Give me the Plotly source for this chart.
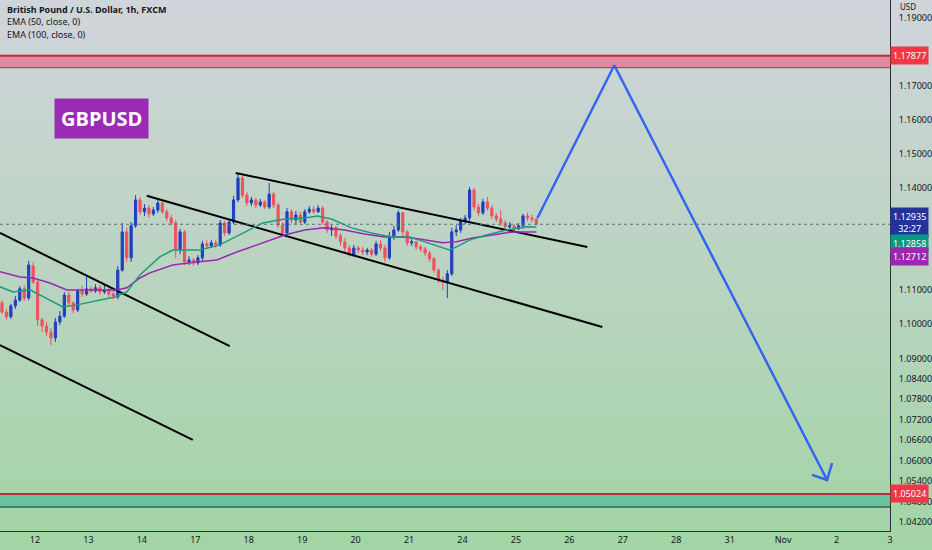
import plotly.graph_objects as go

# x axis = trading days counted from 12 Oct (weekends removed), bars are 2h
day_labels = ["12", "13", "14", "17", "18", "19", "20", "21", "24", "25",
              "26", "27", "28", "31", "Nov", "2", "3"]
first_bar_day = -0.617
bar_step = 2 / 24

opens = [1.1063, 1.1036, 1.1022, 1.1054, 1.1071, 1.1104, 1.1077, 1.1171, 1.1124, 1.1013,
         1.0995, 1.0977, 1.0960, 1.1007, 1.1024, 1.1086, 1.1063, 1.1042, 1.1098, 1.1089,
         1.1104, 1.1098, 1.1107, 1.1095, 1.1101, 1.1089, 1.1080, 1.1159, 1.1271, 1.1195,
         1.1289, 1.1365, 1.1330, 1.1341, 1.1324, 1.1335, 1.1356, 1.1330, 1.1312, 1.1297,
         1.1218, 1.1271, 1.1183, 1.1189, 1.1180, 1.1195, 1.1236, 1.1230, 1.1239, 1.1233,
         1.1297, 1.1268, 1.1300, 1.1365, 1.1429, 1.1379, 1.1356, 1.1365, 1.1350, 1.1359,
         1.1344, 1.1382, 1.1350, 1.1291, 1.1268, 1.1330, 1.1306, 1.1321, 1.1300, 1.1330,
         1.1338, 1.1330, 1.1341, 1.1300, 1.1277, 1.1283, 1.1259, 1.1242, 1.1224, 1.1203,
         1.1224, 1.1218, 1.1212, 1.1218, 1.1206, 1.1236, 1.1224, 1.1195, 1.1259, 1.1277,
         1.1327, 1.1271, 1.1239, 1.1242, 1.1227, 1.1221, 1.1209, 1.1192, 1.1159, 1.1130,
         1.1124, 1.1148, 1.1271, 1.1277, 1.1303, 1.1312, 1.1394, 1.1344, 1.1327, 1.1359,
         1.1341, 1.1318, 1.1309, 1.1297, 1.1286, 1.1289, 1.1280, 1.1289, 1.1318, 1.1312,
         1.1309]
highs = [1.1071, 1.1045, 1.1060, 1.1083, 1.1112, 1.1115, 1.1186, 1.1183, 1.1130, 1.1019,
         1.1007, 1.0989, 1.1019, 1.1039, 1.1095, 1.1095, 1.1066, 1.1104, 1.1112, 1.1139,
         1.1112, 1.1118, 1.1115, 1.1118, 1.1107, 1.1101, 1.1171, 1.1297, 1.1283, 1.1300,
         1.1379, 1.1374, 1.1353, 1.1350, 1.1344, 1.1365, 1.1362, 1.1338, 1.1321, 1.1306,
         1.1280, 1.1277, 1.1200, 1.1195, 1.1203, 1.1245, 1.1247, 1.1247, 1.1247, 1.1306,
         1.1303, 1.1309, 1.1377, 1.1441, 1.1435, 1.1388, 1.1374, 1.1371, 1.1368, 1.1365,
         1.1415, 1.1388, 1.1356, 1.1300, 1.1341, 1.1338, 1.1333, 1.1330, 1.1338, 1.1347,
         1.1347, 1.1350, 1.1347, 1.1306, 1.1291, 1.1289, 1.1268, 1.1253, 1.1233, 1.1233,
         1.1230, 1.1227, 1.1224, 1.1224, 1.1245, 1.1247, 1.1233, 1.1271, 1.1289, 1.1335,
         1.1330, 1.1277, 1.1250, 1.1245, 1.1233, 1.1227, 1.1215, 1.1198, 1.1165, 1.1139,
         1.1159, 1.1283, 1.1291, 1.1312, 1.1321, 1.1403, 1.1400, 1.1353, 1.1368, 1.1374,
         1.1350, 1.1327, 1.1335, 1.1306, 1.1300, 1.1294, 1.1297, 1.1324, 1.1327, 1.1321,
         1.1312]
lows = [1.1030, 1.1013, 1.1016, 1.1045, 1.1066, 1.1068, 1.1071, 1.1118, 1.0995, 1.0977,
        1.0966, 1.0939, 1.0948, 1.0998, 1.1019, 1.1054, 1.1033, 1.1036, 1.1080, 1.1083,
        1.1092, 1.1092, 1.1086, 1.1089, 1.1080, 1.1074, 1.1074, 1.1154, 1.1183, 1.1183,
        1.1283, 1.1321, 1.1318, 1.1312, 1.1318, 1.1327, 1.1324, 1.1303, 1.1289, 1.1195,
        1.1206, 1.1174, 1.1174, 1.1171, 1.1174, 1.1186, 1.1221, 1.1224, 1.1224, 1.1227,
        1.1259, 1.1262, 1.1294, 1.1359, 1.1371, 1.1347, 1.1347, 1.1341, 1.1344, 1.1338,
        1.1338, 1.1341, 1.1283, 1.1259, 1.1262, 1.1297, 1.1294, 1.1291, 1.1294, 1.1324,
        1.1324, 1.1327, 1.1291, 1.1268, 1.1259, 1.1250, 1.1230, 1.1212, 1.1198, 1.1198,
        1.1209, 1.1203, 1.1203, 1.1198, 1.1200, 1.1215, 1.1183, 1.1189, 1.1247, 1.1271,
        1.1259, 1.1230, 1.1230, 1.1218, 1.1212, 1.1200, 1.1183, 1.1151, 1.1121, 1.1101,
        1.1077, 1.1142, 1.1259, 1.1268, 1.1294, 1.1303, 1.1335, 1.1318, 1.1321, 1.1333,
        1.1309, 1.1300, 1.1289, 1.1277, 1.1277, 1.1274, 1.1277, 1.1280, 1.1303, 1.1300,
        1.1294]
closes = [1.1036, 1.1022, 1.1054, 1.1071, 1.1104, 1.1077, 1.1174, 1.1124, 1.1013, 1.0995,
          1.0977, 1.0960, 1.1007, 1.1024, 1.1086, 1.1063, 1.1042, 1.1098, 1.1089, 1.1104,
          1.1098, 1.1107, 1.1095, 1.1101, 1.1089, 1.1083, 1.1159, 1.1271, 1.1195, 1.1289,
          1.1365, 1.1330, 1.1341, 1.1324, 1.1335, 1.1356, 1.1330, 1.1312, 1.1297, 1.1218,
          1.1271, 1.1183, 1.1189, 1.1180, 1.1195, 1.1236, 1.1230, 1.1239, 1.1233, 1.1297,
          1.1268, 1.1300, 1.1365, 1.1429, 1.1379, 1.1356, 1.1365, 1.1350, 1.1359, 1.1344,
          1.1382, 1.1350, 1.1291, 1.1268, 1.1330, 1.1306, 1.1321, 1.1300, 1.1330, 1.1338,
          1.1330, 1.1341, 1.1300, 1.1277, 1.1283, 1.1259, 1.1242, 1.1224, 1.1203, 1.1224,
          1.1218, 1.1212, 1.1218, 1.1206, 1.1236, 1.1224, 1.1195, 1.1259, 1.1277, 1.1327,
          1.1271, 1.1239, 1.1242, 1.1227, 1.1221, 1.1209, 1.1192, 1.1159, 1.1130, 1.1124,
          1.1148, 1.1271, 1.1277, 1.1303, 1.1312, 1.1394, 1.1344, 1.1327, 1.1359, 1.1341,
          1.1318, 1.1309, 1.1297, 1.1286, 1.1289, 1.1280, 1.1289, 1.1318, 1.1312, 1.1309,
          1.12935]
bar_days = [first_bar_day + i * bar_step for i in range(len(closes))]

# EMA lines
ema50_days = [-0.654, -0.411, -0.093, 0.280, 0.523, 0.785, 1.215, 1.495, 1.720, 1.963,
              2.336, 2.579, 2.841, 3.084, 3.458, 3.832, 4.262, 4.673, 5.047, 5.290,
              5.551, 5.925, 6.299, 6.673, 7.009, 7.196, 7.570, 7.757, 7.888, 8.131,
              8.449, 8.822, 9.196, 9.383]
ema50_vals = [1.1110, 1.1095, 1.1101, 1.1071, 1.1051, 1.1057, 1.1071, 1.1080, 1.1095, 1.1145,
              1.1198, 1.1218, 1.1218, 1.1218, 1.1233, 1.1262, 1.1297, 1.1309, 1.1312, 1.1318,
              1.1309, 1.1283, 1.1268, 1.1256, 1.1256, 1.1247, 1.1227, 1.1218, 1.1227, 1.1247,
              1.1262, 1.1277, 1.1286, 1.12858]
ema100_days = [-0.654, -0.280, -0.037, 0.280, 0.598, 0.897, 1.215, 1.533, 1.720, 1.963,
               2.150, 2.579, 3.028, 3.402, 3.776, 4.150, 4.393, 4.673, 5.047, 5.421,
               5.794, 6.168, 6.542, 6.916, 7.196, 7.626, 7.888, 8.187, 8.561, 8.935, 9.383]
ema100_vals = [1.1154, 1.1139, 1.1136, 1.1121, 1.1101, 1.1101, 1.1101, 1.1101, 1.1107, 1.1136,
               1.1151, 1.1174, 1.1183, 1.1189, 1.1212, 1.1233, 1.1247, 1.1262, 1.1277, 1.1283,
               1.1277, 1.1265, 1.1256, 1.1256, 1.1250, 1.1239, 1.1242, 1.1253, 1.1262, 1.1271,
               1.12712]

last_price = 1.12935
ema50_last = 1.12858
ema100_last = 1.12712

resistance = 1.17877
resistance_zone_low = 1.1753
support = 1.05024
support_zone_low = 1.0464

y_ticks = [1.19, 1.17, 1.16, 1.15, 1.14, 1.11, 1.10, 1.09, 1.084, 1.078,
           1.072, 1.066, 1.06, 1.054, 1.048, 1.042]

# channel lines drawn on the chart: (day, price) start and end
trend_lines = [
    ((-0.654, 1.1268), (3.645, 1.0936)),
    ((-0.654, 1.0939), (2.953, 1.0661)),
    ((2.093, 1.1377), (10.617, 1.0992)),
    ((3.757, 1.1444), (10.336, 1.1227)),
]
proj_days = [9.402, 10.841, 14.822]
proj_prices = [1.1312, 1.1760, 1.0543]
head_days = [14.542, 14.822, 14.916]
head_prices = [1.0558, 1.0543, 1.0593]

x_range = [-0.654, 16.0]
y_range = [1.03935, 1.19516]

fig = go.Figure()

# background gradient grey -> green over the whole picture
top = (209, 212, 220)
bottom = (163, 213, 165)
n = 60
y_lo, y_hi = -19 / 531, 1.0
for k in range(n):
    t = (k + 0.5) / n
    c = tuple(int(top[j] + (bottom[j] - top[j]) * t) for j in range(3))
    fig.add_shape(type="rect", xref="paper", yref="paper",
                  x0=0, x1=1.05, y0=y_hi - (k + 1) * (y_hi - y_lo) / n - 0.001,
                  y1=y_hi - k * (y_hi - y_lo) / n,
                  fillcolor="rgb(%d,%d,%d)" % c, line_width=0, layer="below")

# zones
fig.add_shape(type="rect", xref="paper", yref="y", x0=0, x1=1,
              y0=resistance_zone_low, y1=resistance,
              fillcolor="#e08aa0", line_width=0, layer="below")
fig.add_shape(type="line", xref="paper", yref="y", x0=0, x1=1,
              y0=resistance_zone_low, y1=resistance_zone_low,
              line=dict(color="#a0394e", width=1))
fig.add_shape(type="line", xref="paper", yref="y", x0=0, x1=1,
              y0=resistance, y1=resistance, line=dict(color="#c2283a", width=2))
fig.add_shape(type="rect", xref="paper", yref="y", x0=0, x1=1,
              y0=support_zone_low, y1=support,
              fillcolor="#68c29e", line_width=0, layer="below")
fig.add_shape(type="line", xref="paper", yref="y", x0=0, x1=1,
              y0=support_zone_low, y1=support_zone_low,
              line=dict(color="#3c5e52", width=1.5))
fig.add_shape(type="line", xref="paper", yref="y", x0=0, x1=1,
              y0=support, y1=support, line=dict(color="#c2283a", width=2))
fig.add_shape(type="line", xref="paper", yref="y", x0=0, x1=1,
              y0=last_price, y1=last_price, line=dict(color="#5d6f8a", width=1, dash="dot"))

for (a, b) in trend_lines:
    fig.add_trace(go.Scatter(x=[a[0], b[0]], y=[a[1], b[1]], mode="lines",
                             line=dict(color="#000000", width=2), hoverinfo="skip"))

fig.add_trace(go.Scatter(x=ema100_days, y=ema100_vals, mode="lines",
                         line=dict(color="#9c27b0", width=1.5), hoverinfo="skip"))
fig.add_trace(go.Scatter(x=ema50_days, y=ema50_vals, mode="lines",
                         line=dict(color="#1a9e7a", width=1.5), hoverinfo="skip"))

fig.add_trace(go.Candlestick(
    x=bar_days, open=opens, high=highs, low=lows, close=closes,
    increasing=dict(line=dict(color="#1f3fbf", width=1), fillcolor="#1f3fbf"),
    decreasing=dict(line=dict(color="#f0525e", width=1), fillcolor="#f0525e"),
    whiskerwidth=0))

fig.add_trace(go.Scatter(x=proj_days, y=proj_prices, mode="lines",
                         line=dict(color="#3366ee", width=2.5), hoverinfo="skip"))
fig.add_trace(go.Scatter(x=head_days, y=head_prices, mode="lines",
                         line=dict(color="#3366ee", width=2.5), hoverinfo="skip"))

font = "Noto Sans"
ann = [
    dict(text="<b>British Pound / U.S. Dollar, 1h, FXCM</b>", x=5 / 890, y=1 - 9.5 / 531),
    dict(text="EMA (50, close, 0)", x=5 / 890, y=1 - 22 / 531),
    dict(text="EMA (100, close, 0)", x=5 / 890, y=1 - 34.5 / 531),
]
for a in ann:
    fig.add_annotation(xref="paper", yref="paper", xanchor="left", yanchor="middle",
                       showarrow=False, font=dict(family=font, size=9, color="#131722"), **a)

fig.add_annotation(text="USD", xref="paper", yref="paper", x=898 / 890, y=1 - 6 / 531,
                   xanchor="left", yanchor="middle", showarrow=False,
                   font=dict(family=font, size=8, color="#131722"))

fig.add_annotation(text="<b>GBPUSD</b>", xref="paper", yref="paper",
                   x=101 / 890, y=1 - 118 / 531, xanchor="center", yanchor="middle",
                   showarrow=False, bgcolor="#9b2bb5", borderpad=6,
                   font=dict(family="Open Sans", size=20, color="white"))

tags = [
    ("%.5f" % resistance, resistance, "#f23645", 0),
    ("%.5f<br>32:27" % last_price, last_price, "#22349a", 2),
    ("%.5f" % ema50_last, ema50_last, "#089981", -17),
    ("%.5f" % ema100_last, ema100_last, "#9c27b0", -25),
    ("%.5f" % support, support, "#f23645", 0),
]
for txt, yv, col, shift in tags:
    fig.add_annotation(text=txt, xref="paper", yref="y", x=1, y=yv, yshift=shift,
                       xanchor="left", showarrow=False, bgcolor=col, borderpad=2,
                       font=dict(family=font, size=9, color="white"))

fig.update_layout(
    width=932, height=550,
    margin=dict(l=0, r=42, t=0, b=19),
    paper_bgcolor="#bcd6bd", plot_bgcolor="rgba(0,0,0,0)",
    showlegend=False,
    xaxis=dict(range=x_range, tickvals=list(range(len(day_labels))), ticktext=day_labels,
               showgrid=False, zeroline=False, rangeslider=dict(visible=False),
               showline=True, linecolor="#2a2e39", linewidth=1,
               tickfont=dict(family=font, size=9, color="#131722")),
    yaxis=dict(range=y_range, side="right", tickvals=y_ticks,
               ticktext=["%.5f" % v for v in y_ticks],
               showgrid=False, zeroline=False, showline=True, linecolor="#2a2e39",
               linewidth=1, ticklabelstandoff=6,
               tickfont=dict(family=font, size=9, color="#131722")),
)

fig.write_html("out.html", config={"displayModeBar": False},
               post_script="document.body.style.margin='0';")
